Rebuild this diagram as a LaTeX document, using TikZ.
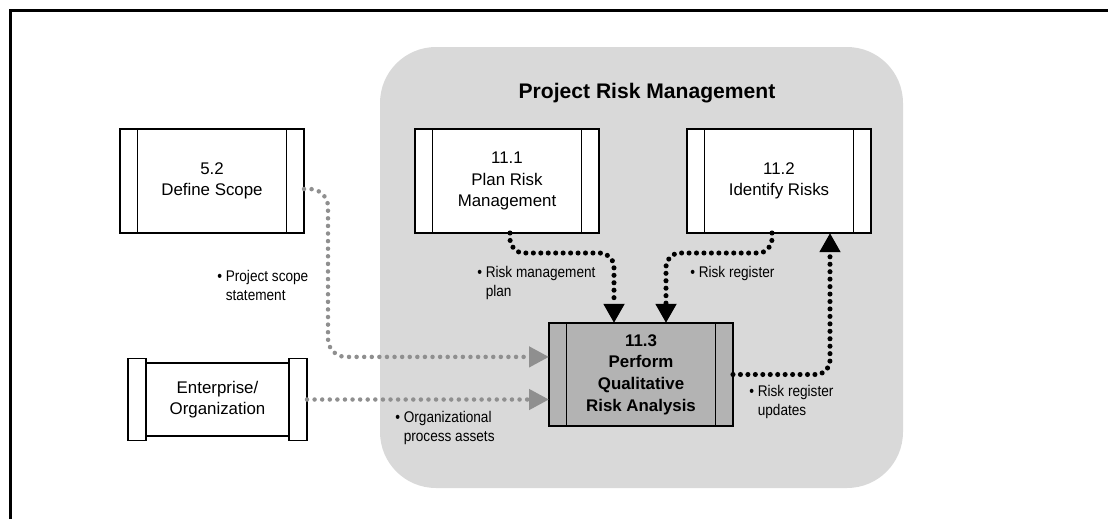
\documentclass[tikz,border=0pt]{standalone}
\usepackage{fontspec}
\setmainfont{Liberation Sans}
\newfontfamily\condfont[FakeStretch=0.88]{Liberation Sans}
\usetikzlibrary{positioning,arrows.meta}
\definecolor{bggray}{HTML}{D9D9D9}
\definecolor{procgray}{HTML}{B3B3B3}
\definecolor{dotgray}{HTML}{8F8F8F}

\begin{document}
\begin{tikzpicture}[
  proc/.style={draw, thick, fill=white, minimum width=4.6cm, minimum height=2.6cm,
               inner sep=0pt, outer sep=0pt, align=center,
               font=\fontsize{12}{15}\selectfont,
               path picture={
                 \draw[thick] ([xshift=0.43cm]path picture bounding box.north west)
                   -- ([xshift=0.43cm]path picture bounding box.south west);
                 \draw[thick] ([xshift=-0.43cm]path picture bounding box.north east)
                   -- ([xshift=-0.43cm]path picture bounding box.south east);}},
  entbox/.style={draw, thick, fill=white, minimum width=4.475cm, minimum height=1.825cm,
                 inner sep=0pt, outer sep=0pt, align=center,
                 font=\fontsize{12}{15}\selectfont},
  entbar/.style={draw, thick, fill=white},
  lbl/.style={anchor=north west, inner sep=0pt, align=left,
              font=\condfont\fontsize{11}{13.5}\selectfont},
  flow/.style={line width=3.6pt, dash pattern=on 0pt off 5.3pt, line cap=round,
               rounded corners=0.35cm, -{Triangle[length=0.48cm,width=0.5cm]}},
  grayflow/.style={flow, dotgray, line width=3.2pt, dash pattern=on 0pt off 5.4pt,
                   rounded corners=0.45cm, -{Triangle[length=0.5cm,width=0.5cm]}},
  ]
  \useasboundingbox (0,0) rectangle (27.7,-12.975);
  \draw[line width=1.6pt] (0.265,-12.975) -- (0.265,-0.265) -- (27.7,-0.265);
  \fill[bggray, rounded corners=1.4cm] (9.5,-1.175) rectangle (22.575,-12.2);
  \node[anchor=base, font=\bfseries\fontsize{15}{18}\selectfont] (title) at (16.175,-2.45) {Project Risk Management};

  \node[proc, fill=procgray, line width=1.1pt, minimum height=2.575cm,
        font=\bfseries\fontsize{12}{15.4}\selectfont] (qual) at (16.025,-9.3625)
        {11.3\\Perform\\Qualitative\\Risk Analysis};
  \node[proc, above=2.25cm of qual, xshift=-3.35cm] (plan) {11.1\\Plan Risk\\Management};
  \node[proc, right=2.2cm of plan] (ident) {11.2\\Identify Risks};
  \node[proc, left=2.775cm of plan] (scope) {5.2\\Define Scope};
  \node[entbox, left=6.05cm of qual, yshift=-0.625cm] (ent) {Enterprise/\\Organization};
  \draw[entbar] ([yshift=0.1125cm]ent.north west) rectangle ([xshift=0.45cm,yshift=-0.1125cm]ent.south west);
  \draw[entbar] ([yshift=0.1125cm]ent.north east) rectangle ([xshift=-0.45cm,yshift=-0.1125cm]ent.south east);

  \draw[grayflow] ([yshift=-0.2cm]scope.east) -- ++(0.6,0) |- ([yshift=0.44cm]qual.west);
  \draw[grayflow] (ent.east) -- (ent.east -| qual.west);
  \draw[flow] ([xshift=0.075cm]plan.south) -- ++(0,-0.5) -| ([xshift=-0.675cm]qual.north);
  \draw[flow] ([xshift=-0.175cm]ident.south) -- ++(0,-0.5) -| ([xshift=0.625cm]qual.north);
  \draw[flow] (qual.east) -| ([xshift=1.275cm]ident.south);

  \node[lbl] (scopelbl) at (5.425,-6.75) {\textbullet\ Project scope\\\phantom{\textbullet\ }statement};
  \node[lbl] (planlbl) at (11.925,-6.65) {\textbullet\ Risk management\\\phantom{\textbullet\ }plan};
  \node[lbl] (identlbl) at (17.25,-6.65) {\textbullet\ Risk register};
  \node[lbl] (updlbl) at (18.725,-9.625) {\textbullet\ Risk register\\\phantom{\textbullet\ }updates};
  \node[lbl] (orglbl) at (9.875,-10.275) {\textbullet\ Organizational\\\phantom{\textbullet\ }process assets};
\end{tikzpicture}
\end{document}
